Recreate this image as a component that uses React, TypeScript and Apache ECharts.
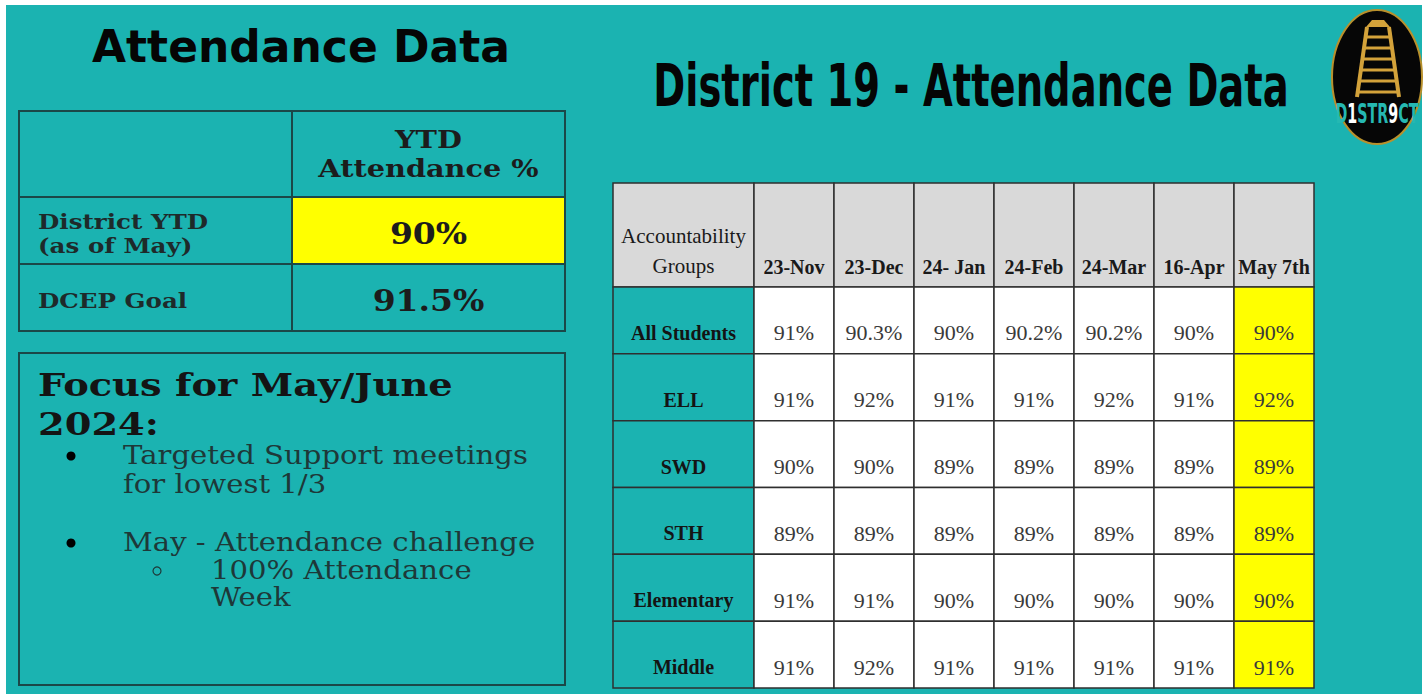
import React, { useEffect, useRef } from "react";
import * as echarts from "echarts";

// ---------- data ----------
const months = ["23-Nov", "23-Dec", "24- Jan", "24-Feb", "24-Mar", "16-Apr", "May 7th"];
const groups = ["All Students", "ELL", "SWD", "STH", "Elementary", "Middle"];
const allStudents = [91, 90.3, 90, 90.2, 90.2, 90, 90];
const ell = [91, 92, 91, 91, 92, 91, 92];
const swd = [90, 90, 89, 89, 89, 89, 89];
const sth = [89, 89, 89, 89, 89, 89, 89];
const elementary = [91, 91, 90, 90, 90, 90, 90];
const middle = [91, 92, 91, 91, 91, 91, 91];
const groupValues = [allStudents, ell, swd, sth, elementary, middle];
const groupHeader = "Accountability\nGroups";

const ytdHeader = "YTD\nAttendance %";
const ytdLabels = ["District YTD\n(as of May)", "DCEP Goal"];
const ytdValues = [90, 91.5];

const leftTitle = "Attendance Data";
const rightTitle = "District 19 - Attendance Data";
const focusTitle = ["Focus for May/June", "2024:"];
const bullet1 = ["Targeted Support meetings", "for lowest 1/3"];
const bullet2 = "May - Attendance challenge";
const subBullet = ["100% Attendance", "Week"];

// ---------- style ----------
const TEAL = "#1bb3b1";
const GRAY = "#d9d9d9";
const YELLOW = "#ffff00";
const LEFT_BORDER = "#1b4848";
const RIGHT_BORDER = "#2f2f2f";
const SERIF_L = "'DejaVu Serif', serif";
const SERIF_R = "'Liberation Serif', serif";
const HAND = "'DejaVu Sans', sans-serif";

const pct = (v: number) => `${v}%`;

type Cell = { fill: string; text: string; textStyle: any; tx: number; ty: number; stroke: string; lw: number; sx?: number };
type CellFn = (idx: number, api: any, box: { x: number; y: number; w: number; h: number }) => Cell;

function cellSeries(gi: number, data: any[], fn: CellFn) {
  return {
    type: "custom",
    xAxisIndex: gi,
    yAxisIndex: gi,
    data,
    silent: true,
    renderItem: (params: any, api: any) => {
      const c = api.coord([api.value(0), api.value(1)]);
      const s = api.size([1, 1]);
      const box = { x: c[0] - s[0] / 2, y: c[1] - s[1] / 2, w: s[0], h: s[1] };
      const cell = fn(params.dataIndex, api, box);
      return {
        type: "group",
        children: [
          {
            type: "rect",
            shape: { x: box.x, y: box.y, width: box.w, height: box.h },
            style: { fill: cell.fill, stroke: cell.stroke, lineWidth: cell.lw },
          },
          {
            type: "text",
            x: cell.tx,
            y: cell.ty,
            scaleX: cell.sx ?? 1,
            style: { text: cell.text, ...cell.textStyle },
          },
        ],
      };
    },
  };
}

const grids = [
  { left: 19, top: 111, width: 546, height: 86 },
  { left: 19, top: 197, width: 546, height: 134 },
  { left: 613, top: 183, width: 141, height: 104 },
  { left: 754, top: 183, width: 560, height: 104 },
  { left: 613, top: 287, width: 141, height: 401 },
  { left: 754, top: 287, width: 560, height: 401 },
];
const xCats = [["label", "value"], ["label", "value"], ["group"], months, ["group"], months];
const yCats = [["header"], ytdLabels, ["header"], ["header"], groups, groups];

function buildOption() {
  const series: any[] = [];

  // left table header
  series.push(
    cellSeries(0, [[0, 0], [1, 0]], (i, api, b) => ({
      fill: TEAL,
      stroke: LEFT_BORDER,
      lw: 2,
      text: i === 1 ? ytdHeader : "",
      tx: b.x + b.w / 2,
      ty: b.y + b.h / 2,
      sx: 1.15,
      textStyle: {
        font: `bold 25px ${SERIF_L}`,
        fill: "#1c1c1c",
        align: "center",
        verticalAlign: "middle",
        lineHeight: 29,
      },
    }))
  );

  // left table body
  const leftBody: any[] = [];
  ytdLabels.forEach((_, r) => {
    leftBody.push([0, r]);
    leftBody.push([1, r, ytdValues[r]]);
  });
  series.push(
    cellSeries(1, leftBody, (i, api, b) => {
      const r = Math.floor(i / 2);
      const isVal = i % 2 === 1;
      return {
        fill: isVal && r === 0 ? YELLOW : TEAL,
        stroke: LEFT_BORDER,
        lw: 2,
        text: isVal ? pct(ytdValues[r]) : ytdLabels[r],
        tx: isVal ? b.x + b.w / 2 : b.x + 19,
        ty: b.y + b.h / 2 + 3,
        sx: isVal ? 1.1 : 1.17,
        textStyle: isVal
          ? { font: `bold 30px ${SERIF_L}`, fill: "#1c1c1c", align: "center", verticalAlign: "middle" }
          : { font: `bold 21px ${SERIF_L}`, fill: "#1e2a2a", align: "left", verticalAlign: "middle", lineHeight: 24 },
      };
    })
  );

  // right table header: group label cell
  series.push(
    cellSeries(2, [[0, 0]], (i, api, b) => ({
      fill: GRAY,
      stroke: RIGHT_BORDER,
      lw: 1.5,
      text: groupHeader,
      tx: b.x + b.w / 2,
      ty: b.y + b.h - 6,
      textStyle: { font: `21px ${SERIF_R}`, fill: "#1a1a1a", align: "center", verticalAlign: "bottom", lineHeight: 30 },
    }))
  );

  // right table header: months
  series.push(
    cellSeries(3, months.map((_, c) => [c, 0]), (i, api, b) => ({
      fill: GRAY,
      stroke: RIGHT_BORDER,
      lw: 1.5,
      text: months[i],
      tx: b.x + b.w / 2,
      ty: b.y + b.h - 5,
      textStyle: { font: `bold 20px ${SERIF_R}`, fill: "#1a1a1a", align: "center", verticalAlign: "bottom", lineHeight: 30 },
    }))
  );

  // right table: group labels
  series.push(
    cellSeries(4, groups.map((_, r) => [0, r]), (i, api, b) => ({
      fill: TEAL,
      stroke: RIGHT_BORDER,
      lw: 1.5,
      text: groups[i],
      tx: b.x + b.w / 2,
      ty: b.y + b.h - 6,
      textStyle: { font: `bold 20px ${SERIF_R}`, fill: "#141414", align: "center", verticalAlign: "bottom", lineHeight: 30 },
    }))
  );

  // right table: values
  const vals: any[] = [];
  groupValues.forEach((row, r) => row.forEach((v, c) => vals.push([c, r, v])));
  series.push(
    cellSeries(5, vals, (i, api, b) => {
      const c = api.value(0);
      return {
        fill: c === months.length - 1 ? YELLOW : "#ffffff",
        stroke: RIGHT_BORDER,
        lw: 1.5,
        text: pct(api.value(2)),
        tx: b.x + b.w / 2,
        ty: b.y + b.h - 6,
        textStyle: { font: `22px ${SERIF_R}`, fill: "#3a3a3a", align: "center", verticalAlign: "bottom", lineHeight: 30 },
      };
    })
  );

  const txt = (text: string, x: number, y: number, font: string, fill: string, align = "left", scaleX = 1) => ({
    type: "text",
    x,
    y,
    scaleX,
    style: { text, font, fill, align, verticalAlign: "middle", textAlign: align, textVerticalAlign: "middle" },
  });

  const gold = "#d3a23a";
  const ladder: any[] = [];
  ladder.push({ type: "line", shape: { x1: 1367, y1: 27, x2: 1357, y2: 97 }, style: { stroke: gold, lineWidth: 4 } });
  ladder.push({ type: "line", shape: { x1: 1389, y1: 27, x2: 1399, y2: 97 }, style: { stroke: gold, lineWidth: 4 } });
  [37, 48, 59, 70, 81, 92].forEach((y) => {
    const t = (y - 27) / 70;
    ladder.push({
      type: "line",
      shape: { x1: 1367 - 10 * t, y1: y, x2: 1389 + 10 * t, y2: y },
      style: { stroke: gold, lineWidth: 3 },
    });
  });
  ladder.push({ type: "polygon", shape: { points: [[1366, 27], [1390, 27], [1384, 20], [1372, 20]] }, style: { fill: gold } });

  const bodyFont = `26px ${SERIF_L}`;
  const bodyCol = "#1e3838";
  const bodySx = 1.12;

  const graphic: any[] = [
    { type: "rect", z: -10, shape: { x: 6, y: 5, width: 1416, height: 689 }, style: { fill: TEAL } },
    txt(leftTitle, 301, 46, `bold 44px ${HAND}`, "#050505", "center", 1),
    txt(rightTitle, 971, 86, `bold 58px ${HAND}`, "#050505", "center", 0.664),
    { type: "rect", shape: { x: 19, y: 353, width: 546, height: 332 }, style: { fill: "none", stroke: LEFT_BORDER, lineWidth: 2 } },
    txt(focusTitle[0], 38, 385, `bold 32px ${SERIF_L}`, "#141414", "left", 1.2),
    txt(focusTitle[1], 38, 424, `bold 32px ${SERIF_L}`, "#141414", "left", 1.2),
    { type: "circle", shape: { cx: 71, cy: 456, r: 4.5 }, style: { fill: "#000" } },
    txt(bullet1[0], 123, 455, bodyFont, bodyCol, "left", bodySx),
    txt(bullet1[1], 123, 484, bodyFont, bodyCol, "left", bodySx),
    { type: "circle", shape: { cx: 71, cy: 543, r: 4.5 }, style: { fill: "#000" } },
    txt(bullet2, 123, 542, bodyFont, bodyCol, "left", bodySx),
    { type: "circle", shape: { cx: 157, cy: 571, r: 4 }, style: { fill: "none", stroke: bodyCol, lineWidth: 1.2 } },
    txt(subBullet[0], 211, 570, bodyFont, bodyCol, "left", bodySx),
    txt(subBullet[1], 211, 597, bodyFont, bodyCol, "left", bodySx),
    // logo
    { type: "ellipse", shape: { cx: 1377, cy: 77, rx: 45, ry: 67 }, style: { fill: "#060606", stroke: "#b8902c", lineWidth: 2 } },
    ...ladder,
    {
      type: "text",
      x: 1377,
      y: 114,
      scaleX: 0.55,
      style: {
        text: "{t|D}{w|1}{t|STR}{w|9}{t|CT}",
        align: "center",
        verticalAlign: "middle",
        textAlign: "center",
        textVerticalAlign: "middle",
        rich: {
          t: { font: `bold 26px ${HAND}`, fill: "#25b8b2" },
          w: { font: `bold 26px ${HAND}`, fill: "#ffffff" },
        },
      },
    },
  ];

  return {
    animation: false,
    backgroundColor: "#ffffff",
    grid: grids.map((g) => ({ ...g, containLabel: false })),
    xAxis: grids.map((_, i) => ({ type: "category", gridIndex: i, data: xCats[i], show: false })),
    yAxis: grids.map((_, i) => ({ type: "category", gridIndex: i, data: yCats[i], inverse: true, show: false })),
    series,
    graphic,
  };
}

export default function App() {
  const ref = useRef<HTMLDivElement>(null);
  useEffect(() => {
    if (!ref.current) return;
    const chart = echarts.init(ref.current, null, { renderer: "svg" });
    chart.setOption(buildOption() as any);
    return () => chart.dispose();
  }, []);
  return <div ref={ref} style={{ position: "absolute", left: 0, top: 0, width: 1427, height: 694 }} />;
}
